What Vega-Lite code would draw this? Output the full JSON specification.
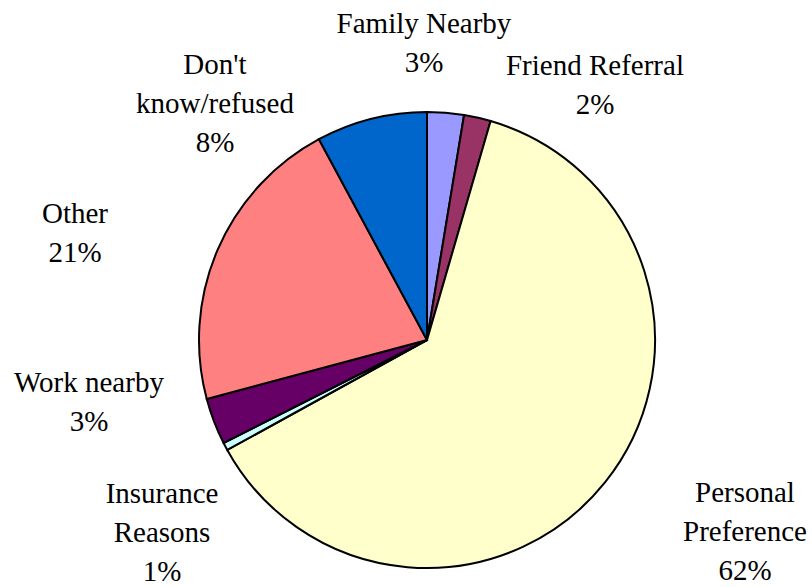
{
  "$schema": "https://vega.github.io/schema/vega-lite/v6.json",
  "autosize": {"type": "none"},
  "padding": {"left": 42, "top": 93, "right": 0, "bottom": 0},
  "width": 770,
  "height": 494,
  "background": "white",
  "config": {"view": {"stroke": null}},
  "data": {
    "values": [
      {"rank": 1, "cat": "Family Nearby", "pct": 2.6, "label": "Family Nearby\n3%"},
      {"rank": 2, "cat": "Friend Referral", "pct": 1.9, "label": "Friend Referral\n2%"},
      {"rank": 3, "cat": "Personal Preference", "pct": 62.49, "label": "Personal\nPreference\n62%"},
      {"rank": 4, "cat": "Insurance Reasons", "pct": 0.55, "label": "Insurance\nReasons\n1%"},
      {"rank": 5, "cat": "Work nearby", "pct": 3.3, "label": "Work nearby\n3%"},
      {"rank": 6, "cat": "Other", "pct": 21.3, "label": "Other\n21%"},
      {"rank": 7, "cat": "Don't know/refused", "pct": 7.86, "label": "Don't\nknow/refused\n8%"}
    ]
  },
  "encoding": {
    "theta": {"field": "pct", "type": "quantitative", "stack": true},
    "order": {"field": "rank", "type": "quantitative"}
  },
  "layer": [
    {
      "mark": {"type": "arc", "radius": 228, "stroke": "black", "strokeWidth": 2},
      "encoding": {
        "color": {
          "field": "cat",
          "type": "nominal",
          "legend": null,
          "scale": {
            "domain": ["Family Nearby", "Friend Referral", "Personal Preference", "Insurance Reasons", "Work nearby", "Other", "Don't know/refused"],
            "range": ["#9999FF", "#993366", "#FFFFCC", "#CCFFFF", "#660066", "#FF8080", "#0066CC"]
          }
        }
      }
    },
    {
      "mark": {"type": "text", "radius": 300, "dx": -27.5, "dy": -8, "font": "Liberation Serif", "fontSize": 29, "lineHeight": 39, "lineBreak": "\n", "align": "center", "baseline": "alphabetic", "color": "black"},
      "encoding": {"text": {"condition": {"test": "datum.rank === 1", "field": "label", "type": "nominal"}, "value": ""}}
    },
    {
      "mark": {"type": "text", "radius": 300, "dx": 101.6, "dy": 27.6, "font": "Liberation Serif", "fontSize": 29, "lineHeight": 39, "lineBreak": "\n", "align": "center", "baseline": "alphabetic", "color": "black"},
      "encoding": {"text": {"condition": {"test": "datum.rank === 2", "field": "label", "type": "nominal"}, "value": ""}}
    },
    {
      "mark": {"type": "text", "radius": 300, "dx": 83.8, "dy": -25.4, "font": "Liberation Serif", "fontSize": 29, "lineHeight": 39, "lineBreak": "\n", "align": "center", "baseline": "alphabetic", "color": "black"},
      "encoding": {"text": {"condition": {"test": "datum.rank === 3", "field": "label", "type": "nominal"}, "value": ""}}
    },
    {
      "mark": {"type": "text", "radius": 300, "dx": 0.3, "dy": 22.8, "font": "Liberation Serif", "fontSize": 29, "lineHeight": 39, "lineBreak": "\n", "align": "center", "baseline": "alphabetic", "color": "black"},
      "encoding": {"text": {"condition": {"test": "datum.rank === 4", "field": "label", "type": "nominal"}, "value": ""}}
    },
    {
      "mark": {"type": "text", "radius": 300, "dx": -57.8, "dy": -55.1, "font": "Liberation Serif", "fontSize": 29, "lineHeight": 39, "lineBreak": "\n", "align": "center", "baseline": "alphabetic", "color": "black"},
      "encoding": {"text": {"condition": {"test": "datum.rank === 5", "field": "label", "type": "nominal"}, "value": ""}}
    },
    {
      "mark": {"type": "text", "radius": 300, "dx": -76.6, "dy": 1.9, "font": "Liberation Serif", "fontSize": 29, "lineHeight": 39, "lineBreak": "\n", "align": "center", "baseline": "alphabetic", "color": "black"},
      "encoding": {"text": {"condition": {"test": "datum.rank === 6", "field": "label", "type": "nominal"}, "value": ""}}
    },
    {
      "mark": {"type": "text", "radius": 300, "dx": -138.7, "dy": 24.9, "font": "Liberation Serif", "fontSize": 29, "lineHeight": 39, "lineBreak": "\n", "align": "center", "baseline": "alphabetic", "color": "black"},
      "encoding": {"text": {"condition": {"test": "datum.rank === 7", "field": "label", "type": "nominal"}, "value": ""}}
    }
  ]
}
